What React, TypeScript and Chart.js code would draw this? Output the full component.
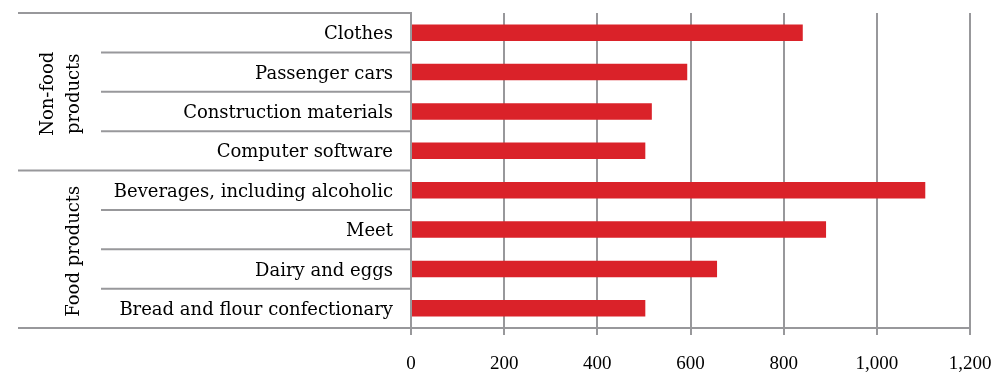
import React, { useEffect, useRef } from "react";
import { Chart, registerables } from "chart.js";

Chart.register(...registerables);

// Categories, top to bottom
const categories = [
  "Clothes",
  "Passenger cars",
  "Construction materials",
  "Computer software",
  "Beverages, including alcoholic",
  "Meet",
  "Dairy and eggs",
  "Bread and flour confectionary",
];

const values = [841, 593, 517, 503, 1104, 891, 657, 503];

// Outer grouping of the categories (lines of the rotated label, and how many rows each group spans)
const groupNames = [["Non-food", "products"], ["Food products"]];
const groupSizes = [4, 4];

const xTicks = [0, 200, 400, 600, 800, 1000, 1200];

const GRID = "#98989b";
const BAR = "#da2229";
const LABEL_FONT = "'DejaVu Serif', serif";

const groupAxisPlugin = {
  id: "groupAxis",
  afterDraw(chart: any) {
    const { ctx, chartArea } = chart;
    const y = chart.scales.y;
    const n = categories.length;
    const edge = (i: number) => {
      if (i === 0) return chartArea.top;
      if (i === n) return chartArea.bottom;
      return (y.getPixelForTick(i - 1) + y.getPixelForTick(i)) / 2;
    };
    const outer = new Set<number>([0]);
    let acc = 0;
    groupSizes.forEach((s) => {
      acc += s;
      outer.add(acc);
    });
    ctx.save();
    ctx.strokeStyle = GRID;
    ctx.lineWidth = 2;
    for (let i = 0; i <= n; i++) {
      const yy = edge(i);
      const x0 = outer.has(i) ? 18 : 101;
      ctx.beginPath();
      ctx.moveTo(x0, yy);
      ctx.lineTo(chartArea.left, yy);
      ctx.stroke();
    }
    // rotated group labels
    ctx.fillStyle = "#000";
    ctx.font = `18px ${LABEL_FONT}`;
    ctx.textAlign = "center";
    ctx.textBaseline = "alphabetic";
    let start = 0;
    groupNames.forEach((lines, gi) => {
      const end = start + groupSizes[gi];
      const cy = (edge(start) + edge(end)) / 2 + 2;
      const lineGap = 26;
      const lastBaseline = 79;
      lines.forEach((line, li) => {
        const bx = lastBaseline - (lines.length - 1 - li) * lineGap;
        ctx.save();
        ctx.translate(bx, cy);
        ctx.rotate(-Math.PI / 2);
        ctx.fillText(line, 0, 0);
        ctx.restore();
      });
      start = end;
    });
    ctx.restore();
  },
};

const noPadding = (scale: any) => {
  scale.paddingTop = 0;
  scale.paddingBottom = 0;
  scale.paddingLeft = 0;
  scale.paddingRight = 0;
};

export default function App() {
  const ref = useRef<HTMLCanvasElement | null>(null);

  useEffect(() => {
    if (!ref.current) return;
    const chart = new Chart(ref.current, {
      type: "bar",
      data: {
        labels: categories,
        datasets: [
          {
            data: values,
            backgroundColor: BAR,
            borderWidth: 0,
            barPercentage: 0.42,
            categoryPercentage: 1,
          },
        ],
      },
      options: {
        indexAxis: "y",
        responsive: false,
        animation: false,
        devicePixelRatio: 1,
        layout: { padding: { top: 13, right: 24, left: 0, bottom: 0 } },
        plugins: {
          legend: { display: false },
          tooltip: { enabled: false },
        },
        scales: {
          x: {
            min: 0,
            max: 1200,
            afterBuildTicks: (scale: any) => {
              scale.ticks = xTicks.map((v) => ({ value: v }));
            },
            afterFit: (scale: any) => {
              scale.height = 45;
              noPadding(scale);
            },
            grid: {
              color: GRID,
              lineWidth: 2,
              drawTicks: true,
              tickLength: 7,
              tickColor: GRID,
            },
            border: { display: true, color: GRID, width: 2 },
            ticks: {
              color: "#000",
              padding: 18,
              font: { family: "'Liberation Serif', serif", size: 19 },
              maxRotation: 0,
            },
          },
          y: {
            afterFit: (scale: any) => {
              scale.width = 411;
              noPadding(scale);
            },
            grid: { display: false, drawTicks: false },
            border: { display: true, color: GRID, width: 2 },
            ticks: {
              color: "#000",
              padding: 18,
              labelOffset: 2,
              font: { family: LABEL_FONT, size: 18 },
            },
          },
        },
      },
      plugins: [groupAxisPlugin],
    });
    return () => chart.destroy();
  }, []);

  return (
    <div style={{ position: "absolute", left: 0, top: 0, width: 994, height: 373, background: "#fff" }}>
      <canvas ref={ref} width={994} height={373} style={{ width: 994, height: 373, display: "block" }} />
    </div>
  );
}
